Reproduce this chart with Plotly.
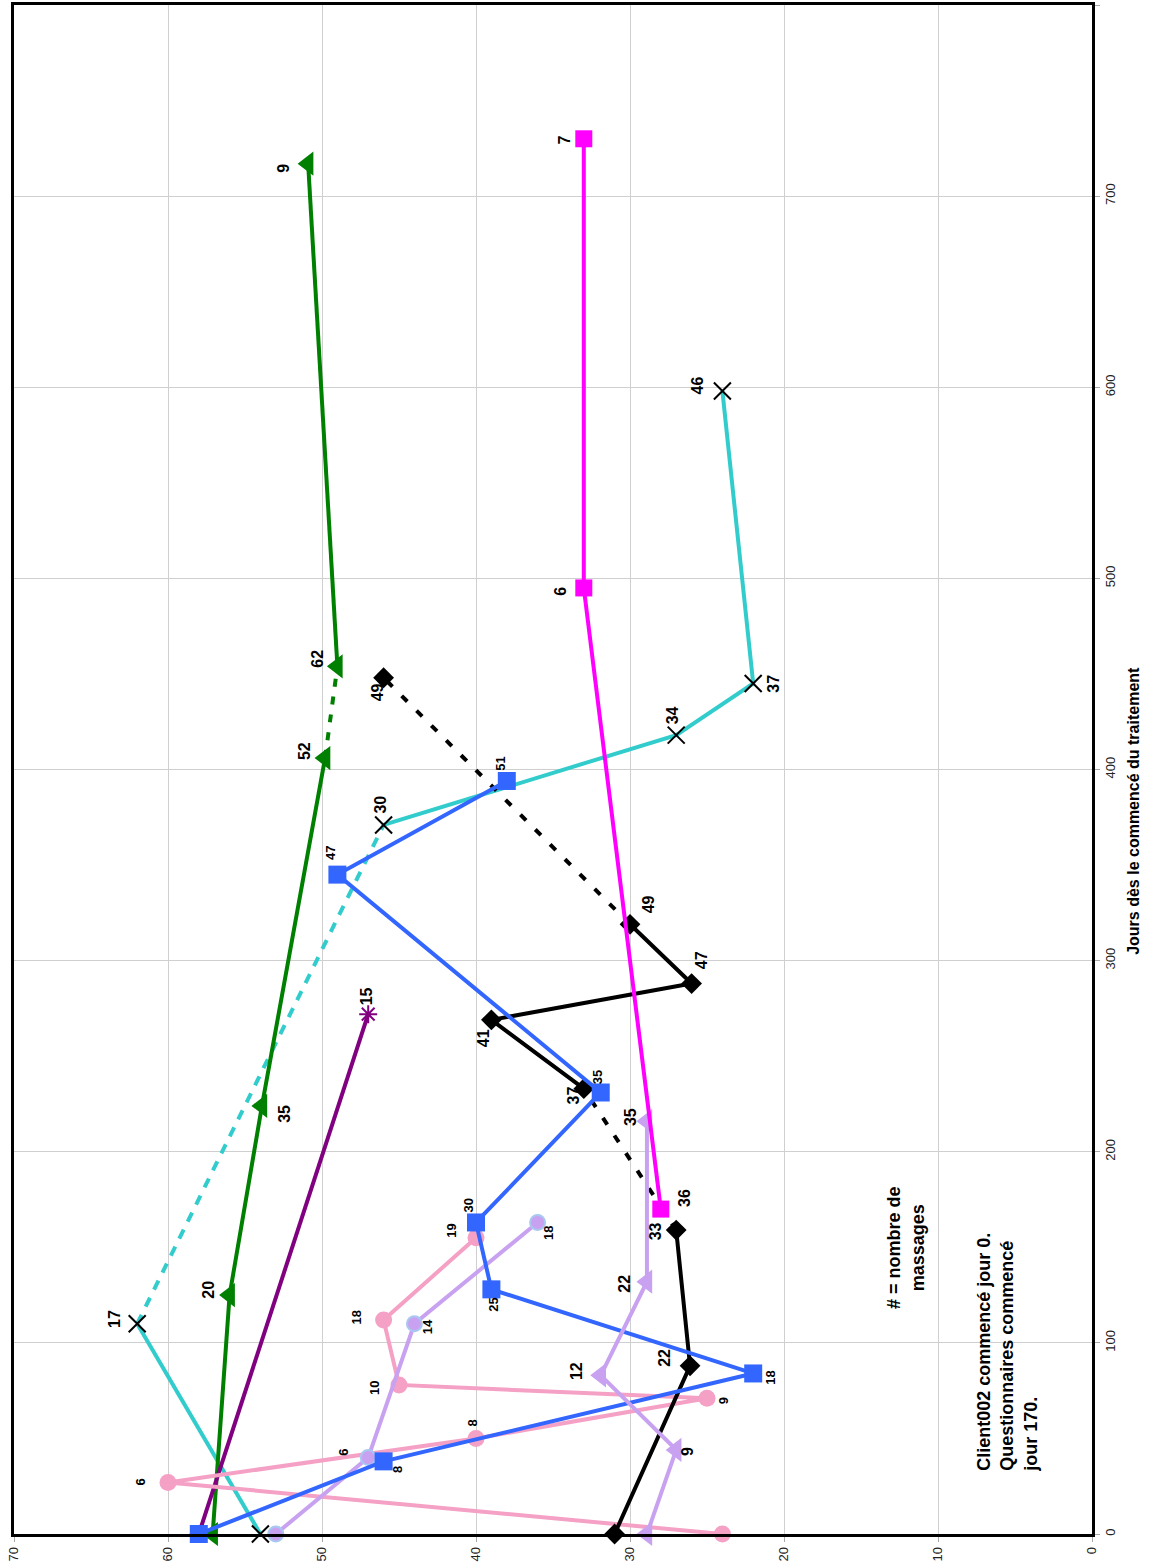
import plotly.graph_objects as go

# ---------------- data (days since start, score, label = nombre de massages) ----------------
pink_days = [0, 27, 50, 71, 78, 112, 155]
pink_vals = [24, 60, 40, 25, 45, 46, 40]
pink_lbls = [None, "6", "8", "9", "10", "18", "19"]

lavc_days = [0, 40, 110, 163]
lavc_vals = [53, 47, 44, 36]
lavc_lbls = [None, "6", "14", "18"]

lavt_days = [0, 44, 83, 132, 216]
lavt_vals = [28.9, 27, 31.9, 28.9, 28.9]
lavt_lbls = [None, "9", "12", "22", "35"]

blue_days = [0, 38, 84, 128, 163, 231, 345, 394]
blue_vals = [58, 46, 22, 39, 40, 31.9, 49, 38]
blue_lbls = [None, "8", "18", "25", "30", "35", "47", "51"]

black_days = [0, 88, 159, 233, 269, 288, 319, 448]
black_vals = [31, 26.1, 27, 33, 39, 26, 30, 46]
black_lbls = [None, "22", "33", "37", "41", "47", "49", "49"]

mag_days = [170, 495, 730]
mag_vals = [28, 33, 33]
mag_lbls = ["36", "6", "7"]

green_days = [0, 125, 224, 406, 454, 717]
green_vals = [57.1, 56, 53.9, 49.8, 49, 50.9]
green_lbls = [None, "20", "35", "52", "62", "9"]

purple_days = [0, 272]
purple_vals = [58, 47]
purple_lbls = [None, "15"]

cyan_days = [0, 110, 371, 418, 445, 598]
cyan_vals = [54, 62, 46, 27, 22, 24]
cyan_lbls = [None, "17", "30", "34", "37", "46"]

value_ticks = [0, 10, 20, 30, 40, 50, 60, 70]
day_ticks = [0, 100, 200, 300, 400, 500, 600, 700, 800]

# ---------------- styles ----------------
FONT = "Liberation Sans, Arial, sans-serif"
series = [
    dict(d=cyan_days, v=cyan_vals, l=cyan_lbls, color="#33CCCC", dashed={1}, dash="10px,9px",
         marker=dict(symbol="x-thin", size=17, color="black", line=dict(color="black", width=2)),
         fs=16, off=[None, (-22, -5), (-3, -20), (-4, -20), (20, 0), (-25, -6)]),
    dict(d=green_days, v=green_vals, l=green_lbls, color="#008000", dashed={3}, dash="8px,10px",
         marker=dict(symbol="triangle-left", size=21, color="#008000"),
         fs=16, off=[None, (-22, -5), (23, 8), (-21, -7), (-20, -8), (-25, 5)]),
    dict(d=purple_days, v=purple_vals, l=purple_lbls, color="#800080", dashed=set(), dash=None,
         marker=dict(symbol="asterisk", size=15, color="#800080", line=dict(color="#800080", width=2)),
         fs=16, off=[None, (-2, -18)]),
    dict(d=pink_days, v=pink_vals, l=pink_lbls, color="#F5A0C5", dashed=set(), dash=None,
         marker=dict(symbol="circle", size=17, color="#F5A0C5"),
         fs=13, off=[None, (-28, 0), (-4, -15), (16, 3), (-24, 3), (-27, -2), (-24, -7)]),
    dict(d=lavc_days, v=lavc_vals, l=lavc_lbls, color="#C8A2F0", dashed=set(), dash=None,
         marker=dict(symbol="circle", size=15, color="#C8A2F0", line=dict(color="#A8C8F2", width=2)),
         fs=13, off=[None, (-25, -5), (13, 3), (11, 11)]),
    dict(d=black_days, v=black_vals, l=black_lbls, color="#000000", dashed={2, 6}, dash="8px,13px",
         marker=dict(symbol="diamond", size=16, color="#000000"),
         fs=16, off=[None, (-25, -8), (-21, 1), (-10, 7), (-8, 18), (10, -23), (18, -20), (-6, 15)]),
    dict(d=blue_days, v=blue_vals, l=blue_lbls, color="#3366FF", dashed=set(), dash=None,
         marker=dict(symbol="square", size=18, color="#3366FF"),
         fs=13, off=[None, (14, 8), (17, 4), (2, 15), (-8, -17), (-3, -15), (-7, -22), (-6, -17)]),
    dict(d=lavt_days, v=lavt_vals, l=lavt_lbls, color="#C8A2F0", dashed=set(), dash=None,
         marker=dict(symbol="triangle-left", size=21, color="#C8A2F0"),
         fs=16, off=[None, (12, 2), (-24, -4), (-22, 2), (-17, -4)]),
    dict(d=mag_days, v=mag_vals, l=mag_lbls, color="#FF00FF", dashed=set(), dash=None,
         marker=dict(symbol="square", size=17, color="#FF00FF"),
         fs=16, off=[(23, -11), (-23, 3), (-19, 1)]),
]

fig = go.Figure()
annotations = []

for s in series:
    d, v = s["d"], s["v"]
    i = 0
    n = len(d)
    while i < n - 1:
        is_dash = i in s["dashed"]
        j = i
        while j + 1 < n - 1 and ((j + 1) in s["dashed"]) == is_dash:
            j += 1
        fig.add_trace(go.Scatter(
            x=v[i:j + 2], y=d[i:j + 2], mode="lines",
            line=dict(color=s["color"], width=4, dash=(s["dash"] if is_dash else "solid")),
            hoverinfo="skip", cliponaxis=False))
        i = j + 1
    fig.add_trace(go.Scatter(x=v, y=d, mode="markers", marker=s["marker"], cliponaxis=False))
    for k, lab in enumerate(s["l"]):
        if lab is None:
            continue
        dx, dy = s["off"][k]
        annotations.append(dict(
            x=v[k], y=d[k], xref="x", yref="y", text=lab, showarrow=False,
            textangle=-90, xshift=dx, yshift=-dy, xanchor="center", yanchor="middle",
            font=dict(family=FONT, size=s["fs"], color="black", weight="bold")))

annotations.append(dict(
    x=12.1, y=150, xref="x", yref="y", text="# = nombre de<br>massages", showarrow=False,
    textangle=-90, align="center", xanchor="center", yanchor="middle",
    font=dict(family=FONT, size=18, color="black", weight="bold")))
annotations.append(dict(
    x=5.5, y=95, xref="x", yref="y",
    text="Client002 commencé jour 0.<br>Questionnaires commencé<br>jour 170.", showarrow=False,
    textangle=-90, align="left", xanchor="center", yanchor="middle",
    font=dict(family=FONT, size=18, color="black", weight="bold")))
annotations.append(dict(
    x=1.039, y=0.473, xref="paper", yref="paper",
    text="Jours dès le commencé du traitement", showarrow=False,
    textangle=-90, xanchor="center", yanchor="middle",
    font=dict(family=FONT, size=16, color="black", weight="bold")))

axis_common = dict(
    showgrid=True, gridcolor="#cfcfcf", gridwidth=1,
    showline=True, linecolor="black", linewidth=2.5, mirror=True,
    ticks="outside", ticklen=5, tickcolor="#aaaaaa",
    tickfont=dict(family=FONT, size=13, color="#222222"),
    zeroline=False, tickangle=-90, automargin=False,
)

fig.update_layout(
    width=1152, height=1568,
    margin=dict(l=14, r=60, t=5, b=34),
    plot_bgcolor="white", paper_bgcolor="white",
    showlegend=False,
    xaxis=dict(range=[70, 0], tickvals=value_ticks, **axis_common),
    yaxis=dict(range=[0, 800], tickvals=day_ticks, side="right", **axis_common),
    annotations=annotations,
)

fig.write_html("out.html", config={"displayModeBar": False},
               post_script="document.body.style.margin='0';")
